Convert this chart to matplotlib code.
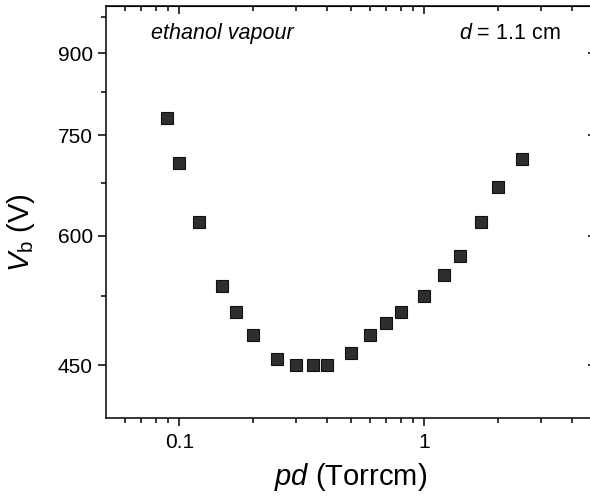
import matplotlib
matplotlib.use("Agg")
import matplotlib.pyplot as plt
from matplotlib.ticker import FixedLocator, NullFormatter, FixedFormatter

plt.rcParams["font.family"] = ["Liberation Sans", "DejaVu Sans"]
plt.rcParams["mathtext.fontset"] = "custom"
plt.rcParams["mathtext.rm"] = "Liberation Sans"
plt.rcParams["mathtext.it"] = "Liberation Sans:italic"

# data
pd_values = [0.089, 0.10, 0.12, 0.15, 0.17, 0.20, 0.25, 0.30, 0.35, 0.40,
             0.50, 0.60, 0.70, 0.80, 1.0, 1.2, 1.4, 1.7, 2.0, 2.5]
vb_values = [780, 705, 619, 537, 506, 481, 456, 450, 450, 450,
             462, 481, 494, 506, 525, 550, 574, 618, 668, 712]

x_major = [0.1, 1]
x_major_labels = ["0.1", "1"]
x_minor = [0.06, 0.07, 0.08, 0.09, 0.2, 0.3, 0.4, 0.5, 0.6, 0.7, 0.8, 0.9, 2, 3, 4]
y_major = [450, 600, 750, 900]
y_major_labels = ["450", "600", "750", "900"]
y_minor = [525, 675, 825, 975]

fig = plt.figure(figsize=(5.9, 5.0), dpi=100)
ax = fig.add_axes([105.5 / 590, 82 / 500, 490 / 590, 412 / 500])

ax.plot(pd_values, vb_values, linestyle="none", marker="s", markersize=8,
        markerfacecolor="#2e2e2e", markeredgecolor="#111111", markeredgewidth=0.8)

ax.set_xscale("log")
ax.set_yscale("log")
ax.set_xlim(0.05, 5)
ax.set_ylim(400, 1000)

ax.xaxis.set_major_locator(FixedLocator(x_major))
ax.xaxis.set_major_formatter(FixedFormatter(x_major_labels))
ax.xaxis.set_minor_locator(FixedLocator(x_minor))
ax.xaxis.set_minor_formatter(NullFormatter())
ax.yaxis.set_major_locator(FixedLocator(y_major))
ax.yaxis.set_major_formatter(FixedFormatter(y_major_labels))
ax.yaxis.set_minor_locator(FixedLocator(y_minor))
ax.yaxis.set_minor_formatter(NullFormatter())

for s in ax.spines.values():
    s.set_linewidth(1.1)
ax.tick_params(which="major", direction="out", length=6, width=1.1,
               labelsize=15, pad=3)
ax.tick_params(which="minor", direction="out", length=3.5, width=1.1)
ax.tick_params(axis="x", which="major", pad=5)

# mirrored ticks on top and right, pointing inwards
top = ax.secondary_xaxis("top")
top.xaxis.set_major_locator(FixedLocator(x_major))
top.xaxis.set_minor_locator(FixedLocator(x_minor))
top.xaxis.set_major_formatter(NullFormatter())
top.xaxis.set_minor_formatter(NullFormatter())
top.tick_params(which="major", direction="in", length=6, width=1.1)
top.tick_params(which="minor", direction="in", length=3.5, width=1.1)

right = ax.secondary_yaxis("right")
right.yaxis.set_major_locator(FixedLocator(y_major))
right.yaxis.set_minor_locator(FixedLocator(y_minor))
right.yaxis.set_major_formatter(NullFormatter())
right.yaxis.set_minor_formatter(NullFormatter())
right.tick_params(which="major", direction="in", length=6, width=1.1)
right.tick_params(which="minor", direction="in", length=3.5, width=1.1)

ax.set_xlabel(r"$\it{pd}$ (Torrcm)", fontsize=21, labelpad=6)
ax.set_ylabel(r"$\it{V}_{\rm b}$ (V)", fontsize=21)
ax.yaxis.set_label_coords(-0.14, 0.449)

ax.text(0.093, 0.934, "ethanol vapour", transform=ax.transAxes,
        fontsize=15.5, fontstyle="italic", ha="left", va="center")
ax.text(0.928, 0.934, r"$\it{d}$ = 1.1 cm", transform=ax.transAxes,
        fontsize=15.5, ha="right", va="center")

fig.savefig("out.png", dpi=100)
